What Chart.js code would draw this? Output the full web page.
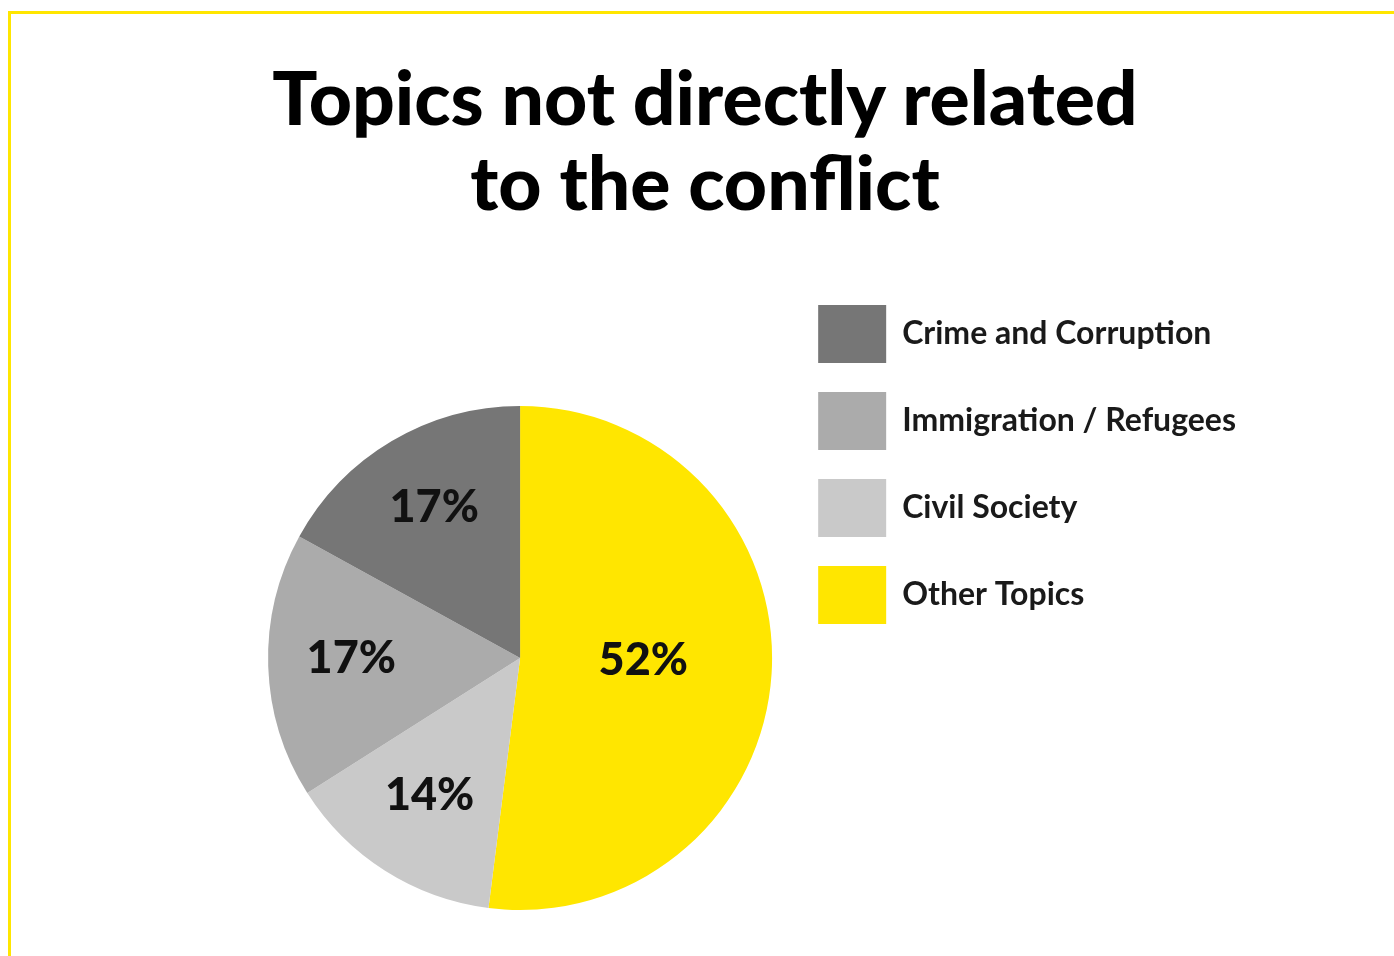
<!DOCTYPE html>
<html>
<head>
<meta charset="utf-8">
<title>Topics not directly related to the conflict</title>
<script src="https://cdn.jsdelivr.net/npm/chart.js@4.4.1/dist/chart.umd.min.js"></script>
<style>
  html, body { margin: 0; padding: 0; background: #fff; overflow: hidden; width: 1394px; height: 956px; }
  .frame { position: absolute; left: 8px; top: 11px; width: 1500px; height: 1100px;
           border-left: 3px solid #ffe600; border-top: 3px solid #ffe600; }
  h1 { position: absolute; left: 105px; top: 54px; width: 1200px; margin: 0;
       font: 900 75px/85px 'Lato', sans-serif; color: #000; text-align: center; }
  #wrap { position: absolute; left: 0; top: 0; width: 1394px; height: 1040px; }
</style>
</head>
<body>
<div class="frame"></div>
<h1>Topics not directly related<br>to the conflict</h1>
<div id="wrap"><canvas id="cPie"></canvas></div>
<script>
// slices in drawing order, clockwise from 12 o'clock
const topics = ['Other Topics', 'Civil Society', 'Immigration / Refugees', 'Crime and Corruption'];
const shares = [52, 14, 17, 17];
const colors = ['#ffe600', '#c9c9c9', '#ababab', '#767676'];

Chart.defaults.font.family = "'Lato', sans-serif";

// percent labels inside each slice; the big slice gets its label nearer the centre
const sliceLabels = {
  id: 'sliceLabels',
  afterDatasetsDraw(chart) {
    const { ctx } = chart;
    const meta = chart.getDatasetMeta(0);
    const total = shares.reduce((a, b) => a + b, 0);
    ctx.save();
    ctx.font = "900 45px 'Lato', sans-serif";
    ctx.fillStyle = '#111';
    ctx.textAlign = 'center';
    ctx.textBaseline = 'middle';
    meta.data.forEach((arc, i) => {
      const { x, y, startAngle, endAngle, outerRadius } = arc.getProps(['x', 'y', 'startAngle', 'endAngle', 'outerRadius'], true);
      const mid = (startAngle + endAngle) / 2;
      const r = outerRadius * (shares[i] / total > 0.5 ? 0.49 : 0.67);
      // Lato sits a little low with 'middle', lift it onto the anchor
      ctx.fillText(shares[i] + '%', x + Math.cos(mid) * r, y + Math.sin(mid) * r - 5);
    });
    ctx.restore();
  }
};

new Chart('cPie', {
  type: 'pie',
  data: {
    labels: topics,
    datasets: [{ data: shares, backgroundColor: colors, borderWidth: 0, radius: 252 }]
  },
  options: {
    responsive: true, maintainAspectRatio: false, animation: false,
    layout: { padding: { left: 251, top: 276, right: 148, bottom: 0 } },
    plugins: {
      tooltip: { enabled: false },
      legend: {
        position: 'right', align: 'start', reverse: true,
        labels: { boxWidth: 68, boxHeight: 58, padding: 29, color: '#1a1a1a',
                  font: { size: 32, weight: 'bold' } }
      }
    }
  },
  plugins: [sliceLabels]
});
</script>
</body>
</html>
